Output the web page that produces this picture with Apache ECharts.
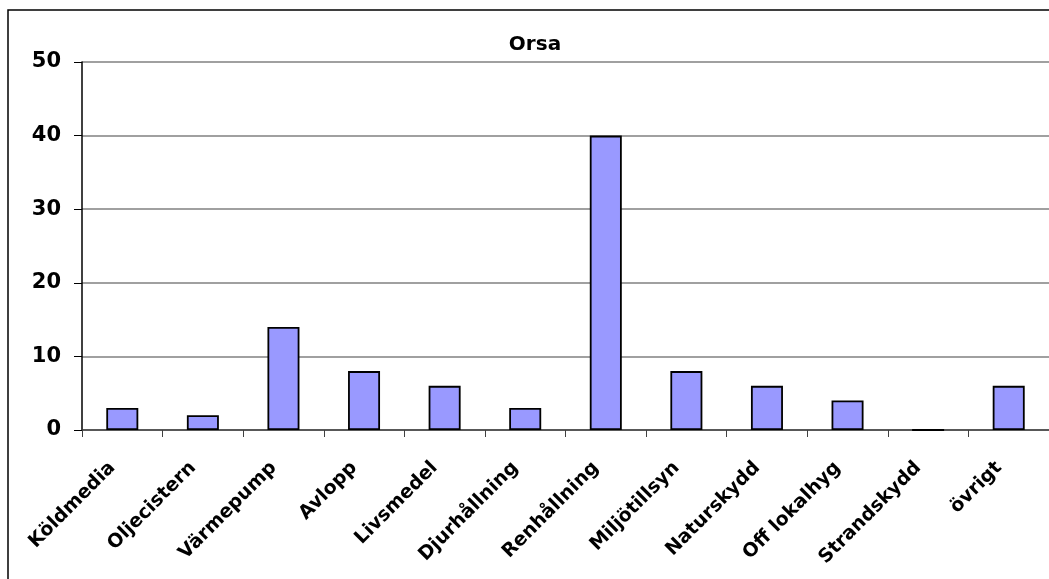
<!DOCTYPE html>
<html>
<head>
<meta charset="utf-8">
<script src="https://cdn.jsdelivr.net/npm/echarts@6/dist/echarts.min.js"></script>
<style>
html,body{margin:0;padding:0;background:#fff;}
#c{width:1049px;height:579px;}
</style>
</head>
<body>
<div id="c"></div>
<script>
const chartTitle = 'Orsa';
const categories = ['Köldmedia','Oljecistern','Värmepump','Avlopp','Livsmedel','Djurhållning','Renhållning','Miljötillsyn','Naturskydd','Off lokalhyg','Strandskydd','övrigt'];
const values = [3, 2, 14, 8, 6, 3, 40, 8, 6, 4, 0, 6];
const yMin = 0, yMax = 50, yStep = 10;

const FONT = '"DejaVu Sans", "Liberation Sans", Arial, sans-serif';
const chart = echarts.init(document.getElementById('c'), null, {renderer:'canvas'});
chart.setOption({
  backgroundColor: '#fff',
  animation: false,
  title: {
    text: chartTitle,
    left: 530, top: 30, textAlign: 'center',
    textStyle: {fontFamily: FONT, fontWeight: 'bold', fontSize: 20, color: '#000'}
  },
  graphic: [{
    type: 'rect', z: -1,
    shape: {x: 8, y: 10, width: 1200, height: 800},
    style: {fill: 'none', stroke: '#000', lineWidth: 1.5}
  }],
  grid: {left: 82, right: -10, top: 62, bottom: 149, containLabel: false},
  xAxis: {
    type: 'category',
    data: categories,
    axisLine: {lineStyle: {color: '#404040', width: 1.5}},
    axisTick: {show: true, length: 7, lineStyle: {color: '#404040'}},
    axisLabel: {
      rotate: 45, margin: 25, interval: 0, padding: [0, 14, 0, 0],
      fontFamily: FONT, fontWeight: 'bold', fontSize: 19, color: '#000'
    }
  },
  yAxis: {
    type: 'value', min: yMin, max: yMax, interval: yStep,
    axisLine: {show: true, lineStyle: {color: '#000', width: 1.5}},
    axisTick: {show: true, length: 8, lineStyle: {color: '#000'}},
    splitLine: {lineStyle: {color: '#808080', width: 1.5}},
    axisLabel: {margin: 21, fontFamily: FONT, fontWeight: 'bold', fontSize: 21, color: '#000'}
  },
  series: [{
    type: 'bar',
    data: values,
    barWidth: 32,
    itemStyle: {color: '#9999FF', borderColor: '#000', borderWidth: 1.8}
  }]
});
</script>
</body>
</html>
